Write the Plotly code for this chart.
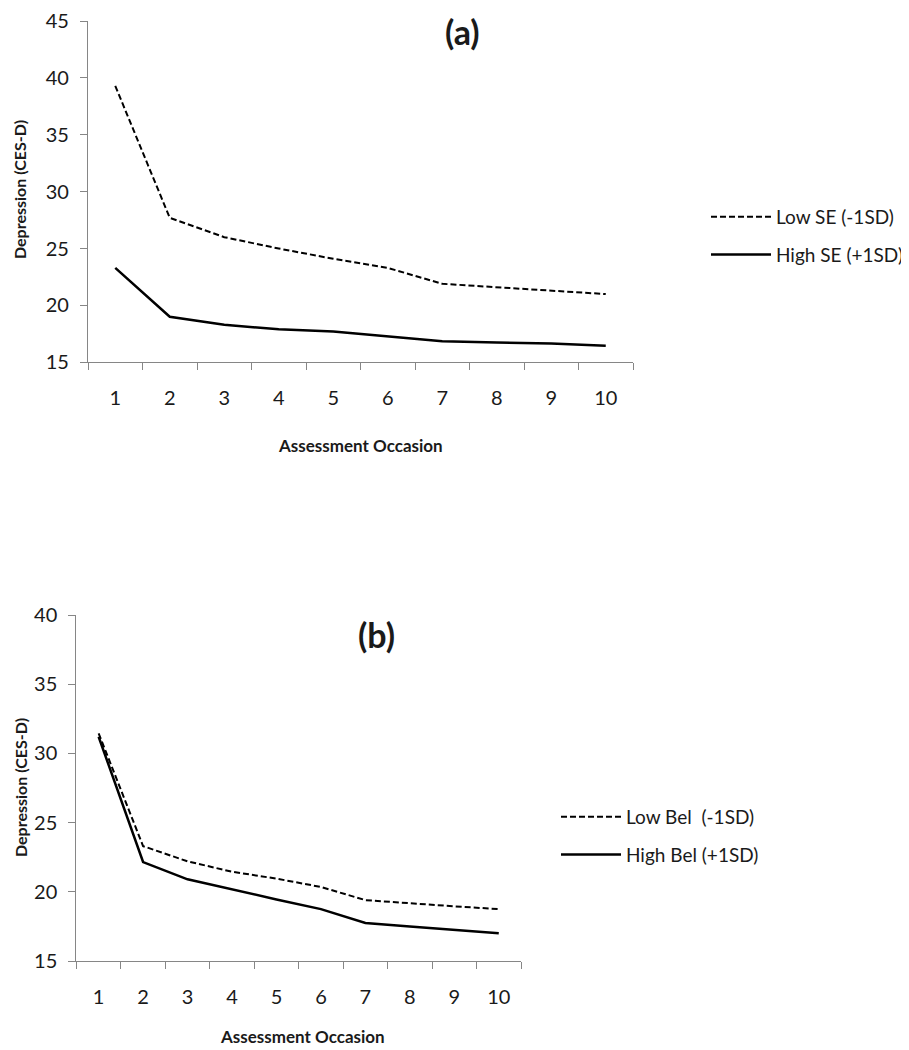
import plotly.graph_objects as go

occasions = ["1", "2", "3", "4", "5", "6", "7", "8", "9", "10"]

# Panel (a): self-esteem
low_se = [39.3, 27.7, 26.0, 25.0, 24.1, 23.3, 21.9, 21.6, 21.3, 21.0]
high_se = [23.3, 19.0, 18.3, 17.9, 17.7, 17.3, 16.85, 16.75, 16.65, 16.45]

# Panel (b): belongingness
low_bel = [31.45, 23.3, 22.2, 21.45, 20.95, 20.35, 19.4, 19.15, 18.95, 18.75]
high_bel = [31.2, 22.15, 20.9, 20.15, 19.45, 18.75, 17.75, 17.5, 17.25, 17.0]

y_ticks_a = [15, 20, 25, 30, 35, 40, 45]
y_ticks_b = [15, 20, 25, 30, 35, 40]

FONT = "Lato, 'Open Sans', sans-serif"
AX = "#868686"
TXT = "#1a1a1a"

fig = go.Figure()

fig.add_trace(go.Scatter(x=occasions, y=low_se, mode="lines", name="Low SE (-1SD)",
                         line=dict(color="black", width=2, dash="6px,3px"),
                         xaxis="x", yaxis="y", legend="legend", legendgroup="a1"))
fig.add_trace(go.Scatter(x=occasions, y=high_se, mode="lines", name="High SE (+1SD)",
                         line=dict(color="black", width=2.5),
                         xaxis="x", yaxis="y", legend="legend", legendgroup="a2"))
fig.add_trace(go.Scatter(x=occasions, y=low_bel, mode="lines", name="Low Bel  (-1SD)",
                         line=dict(color="black", width=2, dash="6px,3px"),
                         xaxis="x2", yaxis="y2", legend="legend2", legendgroup="b1"))
fig.add_trace(go.Scatter(x=occasions, y=high_bel, mode="lines", name="High Bel (+1SD)",
                         line=dict(color="black", width=2.5),
                         xaxis="x2", yaxis="y2", legend="legend2", legendgroup="b2"))

xcommon = dict(type="category", range=[-0.5, 9.5], tickson="boundaries",
               showline=True, linecolor=AX, linewidth=1.3, ticks="outside",
               ticklen=7, tickcolor=AX, tickwidth=1.3, showgrid=False, zeroline=False,
               tickfont=dict(family=FONT, size=20, color=TXT), ticklabelstandoff=18,
               automargin=False, fixedrange=True)
ycommon = dict(showline=True, linecolor=AX, linewidth=1.3, ticks="outside",
               ticklen=7, tickcolor=AX, tickwidth=1.3, showgrid=False, zeroline=False,
               tickfont=dict(family=FONT, size=20, color=TXT), ticklabelstandoff=7,
               ticklabeloverflow="allow", automargin=False, fixedrange=True)

OFF = 8  # default body margin of the html page
W, H = 909 - OFF, 1050 - OFF
def px(x):
    return (x - OFF) / W
def py(y):
    return 1 - (y - OFF) / H

def ann(text, x, y, size, angle=0):
    return dict(text=text, x=px(x), y=py(y), xref="paper", yref="paper",
                xanchor="center", yanchor="middle", showarrow=False,
                textangle=angle, font=dict(family=FONT, size=size, color=TXT))

fig.update_layout(
    width=W, height=H,
    margin=dict(l=0, r=0, t=0, b=0, autoexpand=False),
    paper_bgcolor="white", plot_bgcolor="white",
    font=dict(family=FONT, color=TXT),
    xaxis=dict(domain=[px(88), px(633)], anchor="y", **xcommon),
    yaxis=dict(domain=[py(362.3), py(21)], anchor="x", range=[15, 45],
               tickvals=y_ticks_a, **ycommon),
    xaxis2=dict(domain=[px(76.4), px(521)], anchor="y2", **xcommon),
    yaxis2=dict(domain=[py(961), py(615)], anchor="x2", range=[15, 40],
                tickvals=y_ticks_b, **ycommon),
    legend=dict(x=px(706), y=py(198), xanchor="left", yanchor="top",
                font=dict(family=FONT, size=19, color=TXT), tracegroupgap=10,
                itemwidth=60, bgcolor="rgba(0,0,0,0)"),
    legend2=dict(x=px(556), y=py(798), xanchor="left", yanchor="top",
                 font=dict(family=FONT, size=19, color=TXT), tracegroupgap=10,
                 itemwidth=60, bgcolor="rgba(0,0,0,0)"),
    showlegend=True,
    annotations=[
        ann("<b>(a)</b>", 462, 32, 34),
        ann("<b>(b)</b>", 376, 634, 34),
        ann("<b>Depression (CES-D)</b>", 20, 190, 16, -90),
        ann("<b>Depression (CES-D)</b>", 20, 788, 16, -90),
        ann("<b>Assessment Occasion</b>", 360, 445, 17),
        ann("<b>Assessment Occasion</b>", 302, 1036, 17),
    ],
)

fig.write_html("out.html")
